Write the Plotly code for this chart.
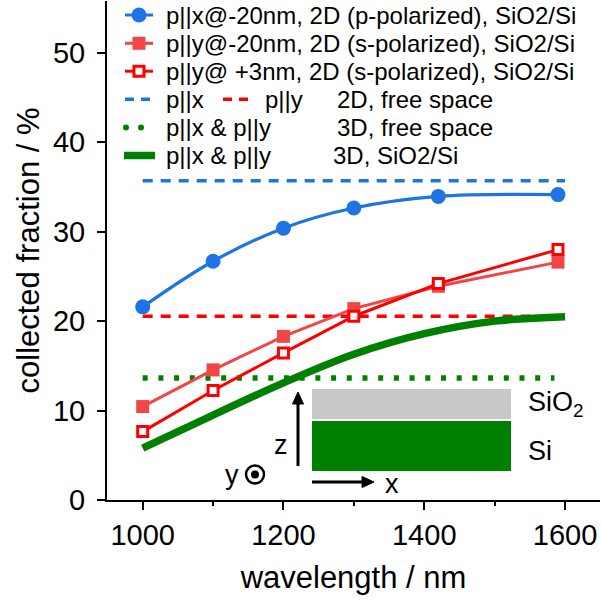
import plotly.graph_objects as go

# ---------------- data ----------------
wl_pts = [1000, 1100, 1200, 1300, 1420, 1590]
px_2d_sio2 = [21.6, 26.7, 30.4, 32.65, 33.95, 34.15]      # p||x @-20nm, 2D
py_2d_sio2_m20 = [10.45, 14.55, 18.3, 21.4, 23.9, 26.6]    # p||y @-20nm, 2D
py_2d_sio2_p3 = [7.65, 12.25, 16.45, 20.55, 24.2, 28.0]    # p||y @+3nm, 2D

wl_px_free = [1000, 1600]
px_2d_free = [35.7, 35.7]
wl_py_free = [1000, 1550]
py_2d_free = [20.55, 20.55]
wl_3d_free = [1000, 1585]
pxy_3d_free = [13.65, 13.65]

wl_3d_sio2 = [1000, 1100, 1200, 1300, 1400, 1500, 1600]
pxy_3d_sio2 = [5.8, 9.5, 13.1, 16.3, 18.6, 20.0, 20.5]

legend_rows = [
    "p||x@-20nm, 2D (p-polarized), SiO2/Si",
    "p||y@-20nm, 2D (s-polarized), SiO2/Si",
    "p||y@ +3nm, 2D (s-polarized), SiO2/Si",
]

# ---------------- style ----------------
W, H = 601, 603
ML, MR, MT, MB = 107, 1, 1, 103
BLUE = "#1E74E2"
LRED = "#F24646"
RED = "#FF0000"
GREEN = "#008000"
GRAY = "#C8C8C8"
FONT = "Liberation Sans, Arial, sans-serif"

fig = go.Figure()

# data traces
fig.add_trace(go.Scatter(x=wl_px_free, y=px_2d_free, mode="lines",
                         line=dict(color=BLUE, width=3.5, dash="10px,8px")))
fig.add_trace(go.Scatter(x=wl_py_free, y=py_2d_free, mode="lines",
                         line=dict(color=RED, width=3.5, dash="10px,8px")))
fig.add_trace(go.Scatter(x=wl_3d_free, y=pxy_3d_free, mode="lines",
                         line=dict(color=GREEN, width=5.5, dash="5px,10.7px")))
fig.add_trace(go.Scatter(x=wl_3d_sio2, y=pxy_3d_sio2, mode="lines",
                         line=dict(color=GREEN, width=7.5, shape="spline")))
fig.add_trace(go.Scatter(x=wl_pts, y=py_2d_sio2_m20, mode="lines+markers",
                         line=dict(color=LRED, width=3),
                         marker=dict(symbol="square", size=13, color=LRED)))
fig.add_trace(go.Scatter(x=wl_pts, y=py_2d_sio2_p3, mode="lines+markers",
                         line=dict(color=RED, width=3),
                         marker=dict(symbol="square", size=10, color="white",
                                     line=dict(color=RED, width=3))))
fig.add_trace(go.Scatter(x=wl_pts, y=px_2d_sio2, mode="lines+markers",
                         line=dict(color=BLUE, width=3.2, shape="spline"),
                         marker=dict(symbol="circle", size=15, color=BLUE)))

# ---------------- pixel overlay axes (for legend & inset) ----------------
def P(x0, x1, y, **kw):
    return dict(x=[x0, x1], y=[y, y], xaxis="x2", yaxis="y2", showlegend=False,
                hoverinfo="skip", **kw)

row_y = [15, 43.3, 71.2, 99.3, 127.6, 155.5]
SX0, SX1, SXM = 125, 153, 139
TX = 164

# legend samples
fig.add_trace(go.Scatter(**P(SX0, SX1, row_y[0]), mode="lines", line=dict(color=BLUE, width=3)))
fig.add_trace(go.Scatter(x=[SXM], y=[row_y[0]], xaxis="x2", yaxis="y2", showlegend=False,
                         mode="markers", marker=dict(symbol="circle", size=15, color=BLUE)))
fig.add_trace(go.Scatter(**P(SX0, SX1, row_y[1]), mode="lines", line=dict(color=LRED, width=3)))
fig.add_trace(go.Scatter(x=[SXM], y=[row_y[1]], xaxis="x2", yaxis="y2", showlegend=False,
                         mode="markers", marker=dict(symbol="square", size=13, color=LRED)))
fig.add_trace(go.Scatter(**P(SX0, SX1, row_y[2]), mode="lines", line=dict(color=RED, width=3)))
fig.add_trace(go.Scatter(x=[SXM], y=[row_y[2]], xaxis="x2", yaxis="y2", showlegend=False,
                         mode="markers", marker=dict(symbol="square", size=10, color="white",
                                                     line=dict(color=RED, width=3))))
fig.add_trace(go.Scatter(**P(SX0, SX1 + 2, row_y[3]), mode="lines",
                         line=dict(color=BLUE, width=3.5, dash="9px,7px")))
fig.add_trace(go.Scatter(**P(223, 251, row_y[3]), mode="lines",
                         line=dict(color=RED, width=3.5, dash="9px,7px")))
fig.add_trace(go.Scatter(x=[126, 141], y=[row_y[4], row_y[4]], xaxis="x2", yaxis="y2",
                         showlegend=False, mode="markers",
                         marker=dict(symbol="circle", size=6, color=GREEN)))
fig.add_trace(go.Scatter(**P(124, 155, row_y[5]), mode="lines", line=dict(color=GREEN, width=7.5)))

annotations = []
def txt(x, y, s, size=24, anchor="left"):
    annotations.append(dict(x=x, y=y, xref="x2", yref="y2", text=s, showarrow=False,
                            xanchor=anchor, yanchor="middle",
                            font=dict(family=FONT, size=size, color="black")))

for i, s in enumerate(legend_rows):
    txt(TX, row_y[i], s)
txt(TX, row_y[3], "p||x")
txt(263, row_y[3], "p||y")
txt(335, row_y[3], "2D, free space")
txt(TX, row_y[4], "p||x &amp; p||y")
txt(335, row_y[4], "3D, free space")
txt(TX, row_y[5], "p||x &amp; p||y")
txt(331, row_y[5], "3D, SiO2/Si")

# y-axis title
annotations.append(dict(x=(28 - ML) / (W - ML - MR), y=0.5, xref="paper", yref="paper",
                        text="collected fraction / %", textangle=-90, showarrow=False,
                        xanchor="center", yanchor="middle",
                        font=dict(family=FONT, size=31, color="black")))

# inset schematic
shapes = [
    dict(type="rect", xref="x2", yref="y2", x0=312, x1=511, y0=389, y1=419,
         fillcolor=GRAY, line=dict(width=0), layer="above"),
    dict(type="rect", xref="x2", yref="y2", x0=312, x1=511, y0=421, y1=471,
         fillcolor=GREEN, line=dict(width=0), layer="above"),
    dict(type="circle", xref="x2", yref="y2", x0=246, x1=264, y0=465.5, y1=483.5,
         fillcolor="white", line=dict(color="black", width=2.5)),
    dict(type="circle", xref="x2", yref="y2", x0=251, x1=259, y0=470.5, y1=478.5,
         fillcolor="black", line=dict(width=0)),
    # z arrow
    dict(type="line", xref="x2", yref="y2", x0=298, x1=298, y0=466, y1=402,
         line=dict(color="black", width=3)),
    dict(type="path", xref="x2", yref="y2", path="M 292.5,404 L 298,392 L 303.5,404 Z",
         fillcolor="black", line=dict(color="black", width=1)),
    # x arrow
    dict(type="line", xref="x2", yref="y2", x0=312, x1=364, y0=482, y1=482,
         line=dict(color="black", width=3)),
    dict(type="path", xref="x2", yref="y2", path="M 362,476.5 L 374,482 L 362,487.5 Z",
         fillcolor="black", line=dict(color="black", width=1)),
]
txt(526, 404, "SiO<sub>2</sub>", size=27)
txt(526, 451, "Si", size=27)
txt(281, 445, "z", size=27, anchor="center")
txt(392, 484, "x", size=27, anchor="center")
txt(232, 475, "y", size=27, anchor="center")

fig.update_layout(
    width=W, height=H,
    margin=dict(l=ML, r=MR, t=MT, b=MB, pad=0),
    paper_bgcolor="white", plot_bgcolor="white",
    showlegend=False,
    font=dict(family=FONT, color="black"),
    xaxis=dict(range=[949.3, 1649.7], tickvals=[1000, 1200, 1400, 1600],
               showgrid=False, zeroline=False, showline=True, linecolor="black", linewidth=2,
               ticks="outside", ticklen=8, tickwidth=2, tickcolor="black",
               tickfont=dict(size=29), ticklabelstandoff=0,
               minor=dict(tickvals=[1100, 1300, 1500], ticks="outside", ticklen=4,
                          tickwidth=2, tickcolor="black"),
               title=dict(text="wavelength / nm", font=dict(size=31), standoff=17)),
    yaxis=dict(range=[0, 55.8], tickvals=[0, 10, 20, 30, 40, 50],
               showgrid=False, zeroline=False, showline=True, linecolor="black", linewidth=2,
               ticks="outside", ticklen=8, tickwidth=2, tickcolor="black",
               tickfont=dict(size=29), ticklabelstandoff=6),
    xaxis2=dict(range=[ML, W - MR], overlaying="x", visible=False, fixedrange=True),
    yaxis2=dict(range=[H - MB, MT], overlaying="y", visible=False, fixedrange=True),
    annotations=annotations,
    shapes=shapes,
)

fig.write_html("out.html")
